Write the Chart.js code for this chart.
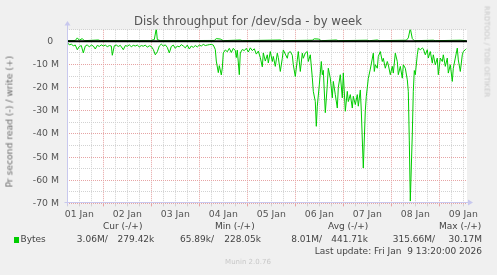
<!DOCTYPE html>
<html>
<head>
<meta charset="utf-8">
<script src="https://cdn.jsdelivr.net/npm/chart.js@4.4.1/dist/chart.umd.min.js"></script>
<style>
  body { margin: 0; background: #f0f0f0; }
  #wrap { position: relative; width: 497px; height: 275px; overflow: hidden; font-family: 'DejaVu Sans', sans-serif; color: #444; }
  #wrap div { position: absolute; white-space: pre; line-height: 1; }
  canvas { position: absolute; left: 0; top: 0; }
</style>
</head>
<body>
<div id="wrap">
  <canvas id="myChart" width="497" height="275"></canvas>
  <div style="left:0;width:496px;text-align:center;top:15.6px;font-size:11.7px;color:#555">Disk throughput for /dev/sda - by week</div>
  <div style="left:-91px;width:200px;text-align:center;top:116.5px;font-size:9.2px;color:#6a6a6a;transform:rotate(-90deg)">Pr second read (-) / write (+)</div>
  <div style="left:412px;width:150px;text-align:center;top:47.5px;font-size:7.1px;color:#c8c8c8;transform:rotate(90deg)">RRDTOOL / TOBI OETIKER</div>

  <div style="left:103px;top:222.2px;font-size:9px">Cur (-/+)</div>
  <div style="left:215px;top:222.2px;font-size:9px">Min (-/+)</div>
  <div style="left:328px;top:222.2px;font-size:9px">Avg (-/+)</div>
  <div style="left:439px;top:222.2px;font-size:9px">Max (-/+)</div>

  <div style="left:14px;top:237.3px;width:5.3px;height:5.3px;background:#00cc00"></div>
  <div style="left:20.5px;top:235px;font-size:9px">Bytes</div>
  <div style="right:389.3px;top:235px;font-size:9px">3.06M/</div>
  <div style="right:342.7px;top:235px;font-size:9px">279.42k</div>
  <div style="right:283px;top:235px;font-size:9px">65.89k/</div>
  <div style="right:236px;top:235px;font-size:9px">228.05k</div>
  <div style="right:175px;top:235px;font-size:9px">8.01M/</div>
  <div style="right:129px;top:235px;font-size:9px">441.71k</div>
  <div style="right:62px;top:235px;font-size:9px">315.66M/</div>
  <div style="right:15px;top:235px;font-size:9px">30.17M</div>

  <div style="right:15px;top:246.7px;font-size:9px">Last update: Fri Jan  9 13:20:00 2026</div>
  <div style="left:0;width:496px;text-align:center;top:259px;font-size:7px;color:#c8c8c8">Munin 2.0.76</div>
</div>

<script>
// hours since 01 Jan 00:00, MB per second (read is drawn negative)
const readSeries = [
  [6,-0.5],[7,-1.5],[8,-1.2],[9,-1.9],[10,-1.6],[11,-3.6],[12,-2.2],[13,-1.8],[14,-5.0],[15,-2.0],
  [16,-1.5],[17,-2.4],[18,-1.6],[19,-2.0],[20,-3.3],[21,-1.7],[22,-2.2],[23,-1.5],[24,-2.0],[25,-1.6],
  [26,-2.3],[27,-1.8],[28,-2.0],[28.5,-6.0],[29.5,-1.9],[30.5,-1.6],[31.5,-2.2],[32.5,-1.7],[34,-3.6],[35,-1.8],
  [36,-2.1],[37,-1.5],[38,-2.3],[39,-1.7],[40,-2.0],[41,-1.6],[42,-2.4],[43,-1.8],[44,-2.1],[45,-1.6],
  [46,-2.5],[47,-1.9],[48,-2.2],[49,-3.5],[50,-5.8],[51,-4.5],[52,-2.0],[53,-1.2],[54,-2.0],[55,-1.5],
  [56,-2.6],[57,-5.0],[58,-2.2],[59,-1.6],[60,-3.0],[61,-2.0],[62,-2.4],[63,-1.4],[64,-2.0],[65,-2.8],
  [66,-1.6],[67,-3.3],[68,-2.0],[69,-2.6],[70,-1.8],[71,-2.4],[72,-1.6],[73,-2.0],[74,-1.3],[75,-1.8],
  [76,-1.6],[77,-1.4],[78,-1.3],[79,-1.6],[80,-3.5],[80.5,-8.5],[81.5,-13.5],[82,-10.5],[83,-14.5],[83.5,-11.5],
  [84,-5.0],[85,-3.7],[86,-4.5],[87,-3.0],[88,-4.8],[89,-3.0],[90,-4.0],[90.5,-7.0],[91,-3.8],[92,-14.4],
  [92.5,-5.0],[93.5,-3.5],[94.5,-4.0],[95.5,-3.0],[96.5,-4.6],[97.5,-2.8],[98.5,-4.0],[99.5,-3.2],[100.5,-5.5],[101.5,-4.2],
  [102.5,-7.0],[103.5,-11.0],[104,-5.0],[105,-8.5],[106,-5.8],[106.5,-9.3],[107.5,-4.4],[108.5,-8.7],[109,-6.5],[110,-10.8],
  [111,-5.1],[111.5,-7.0],[112.5,-13.0],[113.5,-7.3],[114,-3.7],[115,-5.5],[116,-7.3],[116.5,-5.0],[117.5,-4.4],[118.5,-6.0],
  [119,-10.1],[120,-15.2],[121,-8.0],[121.5,-4.4],[122.5,-13.0],[123.5,-5.1],[124,-7.3],[125,-5.0],[126,-4.4],[126.5,-8.7],
  [127.5,-5.8],[128.5,-15.7],[129,-21.6],[130,-26],[130.5,-36.7],[131,-28],[132,-18.8],[133,-8.7],[133.5,-14.4],[134,-12.5],
  [135,-30.8],[136,-18.8],[136.5,-11.6],[137.5,-15.9],[138.5,-24.4],[139,-17.3],[140,-23],[141,-28.8],[141.5,-20],[142.5,-14.4],
  [143.5,-24.4],[144,-13.7],[145,-30.2],[146,-21.6],[146.5,-26],[147.5,-23],[148.5,-28.8],[149,-23.7],[150,-27.3],[151,-23],
  [151.5,-28],[152.5,-21],[153,-30],[154,-54.7],[155,-30],[155.5,-23.8],[156.5,-16],[157.5,-12],[159,-5.1],[159.5,-13],
  [160,-10.1],[161,-11.6],[161.5,-6.5],[162.5,-4.4],[163.5,-8.7],[164,-7.3],[165,-11.6],[166,-8.7],[166.5,-10.1],[167.5,-14.4],
  [168.5,-10.8],[169,-13.7],[170,-5.1],[171,-8.7],[171.5,-14.4],[172.5,-10.8],[173.5,-15.9],[174,-10.1],[175,-11.6],[176,-16.6],
  [176.5,-21.6],[177,-43],[177.5,-69],[178.5,-40],[179,-21.6],[179.5,-12.6],[180,-14.4],[181,-5.8],[181.5,-2.9],[182.5,-3.6],
  [183.5,-2.9],[184,-3.2],[185,-5.8],[186,-3.6],[186.5,-7.2],[187.5,-4.4],[188.5,-9.4],[189,-5.8],[190,-10.1],[191,-7.2],
  [191.5,-14.4],[192.5,-7.2],[193.5,-8.7],[194,-5.8],[195,-10.8],[196,-7.2],[196.5,-13.7],[197.5,-10.1],[198.5,-17.3],[199,-11.6],
  [200,-7.2],[201,-2.9],[201.5,-8],[202.5,-13],[203.5,-5.8],[204,-4.4],[205,-3.6],[205.5,-3.2]
];

const writeSeries = [
  [6,0.3],[10,0.4],[11,1.5],[12,0.5],[13.5,1.2],[14.5,0.3],[21.5,0.6],[22.5,0.3],[47.5,0.3],[49.5,0.8],
  [50.5,5.6],[51,0.8],[52.5,0.3],[79.5,0.4],[80.5,1.2],[82.5,1.0],[84,0.3],[92.5,0.6],[93.5,0.3],[112.5,0.6],
  [113.5,0.3],[128.5,0.5],[129.5,1.1],[131.5,1.0],[133,0.3],[140.5,0.6],[141.5,0.3],[156,0.5],[157,0.3],[161,0.6],
  [162,0.3],[175.5,0.5],[176.5,1.5],[177.5,5.6],[178.5,1.2],[179.5,0.3],[189,0.5],[190,0.3],[202.5,0.5],[205.5,0.3]
];

const dayLabels = ['01 Jan', '02 Jan', '03 Jan', '04 Jan', '05 Jan', '06 Jan', '07 Jan', '08 Jan', '09 Jan'];
const yTicksMB = [-70, -65, -60, -55, -50, -45, -40, -35, -30, -25, -20, -15, -10, -5, 0, 5];

const minorGrid = '#d2d2d2';
const majorGrid = '#e6a4a4';

const muninFrame = {
  id: 'muninFrame',
  beforeDraw(chart) {
    const { ctx, chartArea: a } = chart;
    ctx.save();
    ctx.fillStyle = '#ffffff';
    ctx.fillRect(a.left, a.top, a.right - a.left, a.bottom - a.top);
    ctx.restore();
  },
  afterDatasetsDraw(chart) {
    const { ctx, chartArea: a } = chart;
    const y0 = chart.scales.y.getPixelForValue(0);
    ctx.save();
    ctx.strokeStyle = '#000';
    ctx.lineWidth = 2;
    ctx.beginPath();
    ctx.moveTo(a.left, y0);
    ctx.lineTo(a.right, y0);
    ctx.stroke();

    // axes with arrows
    const ax = Math.round(a.left) + 0.5;
    const ay = Math.round(a.bottom) - 0.5;
    ctx.strokeStyle = '#c8c8ee';
    ctx.fillStyle = '#c8c8ee';
    ctx.lineWidth = 1;
    ctx.beginPath();
    ctx.moveTo(ax, 25);
    ctx.lineTo(ax, ay + 3);
    ctx.moveTo(ax - 3, ay);
    ctx.lineTo(a.right + 1, ay);
    ctx.stroke();
    ctx.beginPath();
    ctx.moveTo(ax - 3, 25.5);
    ctx.lineTo(ax + 3, 25.5);
    ctx.lineTo(ax, 21);
    ctx.closePath();
    ctx.fill();
    ctx.beginPath();
    ctx.moveTo(a.right + 1, ay - 3);
    ctx.lineTo(a.right + 1, ay + 3);
    ctx.lineTo(a.right + 6, ay);
    ctx.closePath();
    ctx.fill();
    ctx.restore();
  }
};

const toPoints = s => s.map(p => ({ x: p[0], y: p[1] }));

new Chart(document.getElementById('myChart').getContext('2d'), {
  type: 'line',
  data: {
    datasets: [
      { label: 'read', data: toPoints(readSeries), borderColor: '#00cc00', borderWidth: 1, pointRadius: 0, tension: 0 },
      { label: 'write', data: toPoints(writeSeries), borderColor: '#00cc00', borderWidth: 1, pointRadius: 0, tension: 0 }
    ]
  },
  options: {
    responsive: false,
    animation: false,
    devicePixelRatio: 1,
    layout: { padding: { left: 0, top: 29.8, right: 30, bottom: 0 } },
    plugins: { legend: { display: false }, tooltip: { enabled: false }, title: { display: false } },
    scales: {
      x: {
        type: 'linear',
        min: 5.85,
        max: 205.85,
        afterBuildTicks: s => { s.ticks = []; for (let h = 6; h <= 204; h += 6) s.ticks.push({ value: h }); },
        afterFit: s => { s.height = 71.6; },
        ticks: {
          autoSkip: false,
          maxRotation: 0,
          padding: 3,
          color: '#555',
          font: { family: 'DejaVu Sans', size: 9.3 },
          callback: v => (v % 24 === 12 ? dayLabels[(v - 12) / 24] : '')
        },
        grid: {
          color: c => (c.tick && c.tick.value % 24 === 0 ? majorGrid : minorGrid),
          tickLength: 3,
          drawTicks: true
        },
        border: { display: false, dash: [1, 1] }
      },
      y: {
        min: -70,
        max: 5,
        afterBuildTicks: s => { s.ticks = yTicksMB.map(v => ({ value: v })); },
        afterFit: s => { s.width = 67; },
        ticks: {
          autoSkip: false,
          padding: 8,
          color: '#555',
          font: { family: 'DejaVu Sans', size: 9.3 },
          callback: v => (v % 10 === 0 ? (v === 0 ? '0  ' : v + ' M') : '')
        },
        grid: {
          color: c => (c.tick && c.tick.value % 10 === 0 ? majorGrid : minorGrid),
          drawTicks: false
        },
        border: { display: false, dash: [1, 1] }
      }
    }
  },
  plugins: [muninFrame]
});
</script>
</body>
</html>
